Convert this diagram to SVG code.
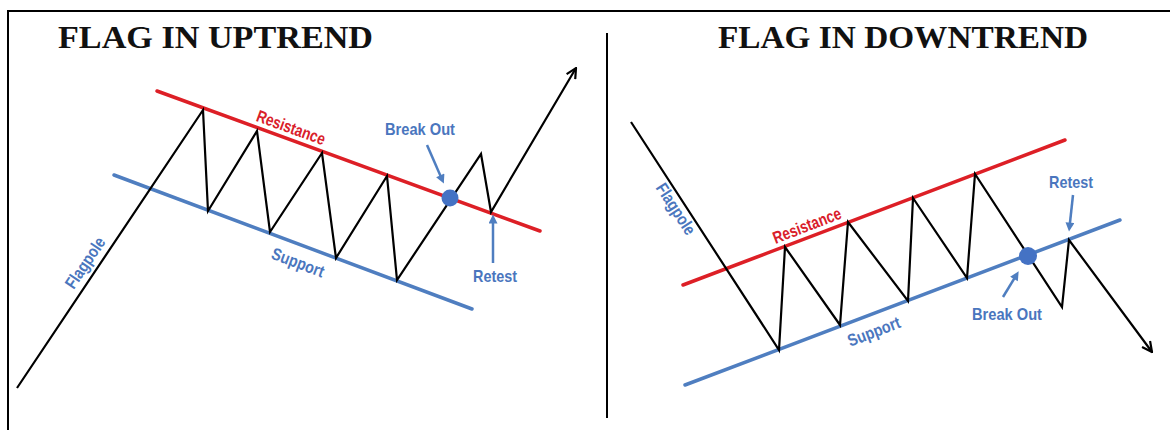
<svg xmlns="http://www.w3.org/2000/svg" width="1170" height="430" viewBox="0 0 1170 430">
<defs>
<style>
.title{font-family:"Liberation Serif","DejaVu Serif",serif;font-weight:bold;font-size:32px;fill:#111}
.lbl{font-family:"Liberation Sans","DejaVu Sans",sans-serif;font-size:17px;font-weight:bold}
.bt{fill:#4A76BE}
.rt{fill:#D9202A}
.res{stroke:#DD1F26;stroke-width:3.5;stroke-linecap:round}
.sup{stroke:#4F7EC0;stroke-width:3.5;stroke-linecap:round}
.price{fill:none;stroke:#000;stroke-width:2.2;stroke-linejoin:miter}
.frame{stroke:#000;stroke-width:2;fill:none}
.ptr{stroke:#4F7EC0;stroke-width:2.5}
.dot{fill:#4472C4}
</style>
<marker id="chev" viewBox="0 0 12 12" refX="11" refY="6" markerWidth="12" markerHeight="12" markerUnits="userSpaceOnUse" orient="auto"><path d="M1,1 L11,6 L1,11" fill="none" stroke="#000" stroke-width="2.2"/></marker>
<marker id="tri" viewBox="0 0 10 10" refX="6" refY="5" markerWidth="10" markerHeight="9" markerUnits="userSpaceOnUse" orient="auto"><path d="M0,0 L10,5 L0,10 z" fill="#4F7EC0"/></marker>
</defs>
<rect width="1170" height="430" fill="#fff"/>
<g id="frame">
<path class="frame" d="M8,430 L8,11 L1170,11"/>
<line class="frame" x1="607" y1="33" x2="607" y2="418" stroke-width="2.5"/>
</g>
<g id="uptrend">
<text class="title" x="58" y="48" textLength="315" lengthAdjust="spacingAndGlyphs">FLAG IN UPTREND</text>
<g id="up-resistance"><line class="res" x1="157" y1="91" x2="540" y2="231"/><text class="lbl rt" x="289" y="133" text-anchor="middle" textLength="72" lengthAdjust="spacingAndGlyphs" transform="rotate(20 289 133)">Resistance</text></g>
<g id="up-support"><line class="sup" x1="114" y1="175" x2="472" y2="309"/><text class="lbl bt" x="296" y="268" text-anchor="middle" textLength="55" lengthAdjust="spacingAndGlyphs" transform="rotate(20.5 296 268)">Support</text></g>
<g id="up-flagpole"><text class="lbl bt" x="90" y="266" text-anchor="middle" textLength="58" lengthAdjust="spacingAndGlyphs" transform="rotate(-56 90 266)">Flagpole</text></g>
<g id="up-price"><path class="price" marker-end="url(#chev)" d="M17,388 L203,110 L208,211 L257,131 L270,232 L322,153 L336,258 L387,176 L397,280 L481,154 L491,212 L576,68"/></g>
<g id="up-breakout"><circle class="dot" cx="450" cy="198" r="8.5"/><text class="lbl bt" x="420" y="135" text-anchor="middle" textLength="70" lengthAdjust="spacingAndGlyphs">Break Out</text></g>
<g id="up-retest"><text class="lbl bt" x="495" y="282" text-anchor="middle" textLength="44" lengthAdjust="spacingAndGlyphs">Retest</text></g>
</g>
<g id="downtrend">
<text class="title" x="718" y="48" textLength="370" lengthAdjust="spacingAndGlyphs">FLAG IN DOWNTREND</text>
<g id="down-resistance"><line class="res" x1="683" y1="285" x2="1065" y2="140"/><text class="lbl rt" x="809" y="231" text-anchor="middle" textLength="72" lengthAdjust="spacingAndGlyphs" transform="rotate(-21 809 231)">Resistance</text></g>
<g id="down-support"><line class="sup" x1="685" y1="385" x2="1120" y2="220"/><text class="lbl bt" x="876" y="337" text-anchor="middle" textLength="55" lengthAdjust="spacingAndGlyphs" transform="rotate(-21 876 337)">Support</text></g>
<g id="down-flagpole"><text class="lbl bt" x="671" y="212" text-anchor="middle" textLength="58" lengthAdjust="spacingAndGlyphs" transform="rotate(57 671 212)">Flagpole</text></g>
<g id="down-price"><path class="price" marker-end="url(#chev)" d="M631,122 L779,350 L785,247 L840,325 L848,222 L908,301 L913,198 L967,278 L975,174 L1062,307 L1069,240 L1152,352"/></g>
<g id="down-breakout"><circle class="dot" cx="1028" cy="256" r="9"/><text class="lbl bt" x="1007" y="320" text-anchor="middle" textLength="70" lengthAdjust="spacingAndGlyphs">Break Out</text></g>
<g id="down-retest"><text class="lbl bt" x="1071" y="188" text-anchor="middle" textLength="44" lengthAdjust="spacingAndGlyphs">Retest</text></g>
</g>
<g id="connectors">
<line class="ptr" marker-end="url(#tri)" x1="427" y1="145" x2="442.4" y2="180.3"/>
<line class="ptr" marker-end="url(#tri)" x1="493" y1="263" x2="493" y2="218"/>
<line class="ptr" marker-end="url(#tri)" x1="1003" y1="297" x2="1016.8" y2="274.4"/>
<line class="ptr" marker-end="url(#tri)" x1="1073" y1="195" x2="1069.4" y2="228"/>
</g>
</svg>
